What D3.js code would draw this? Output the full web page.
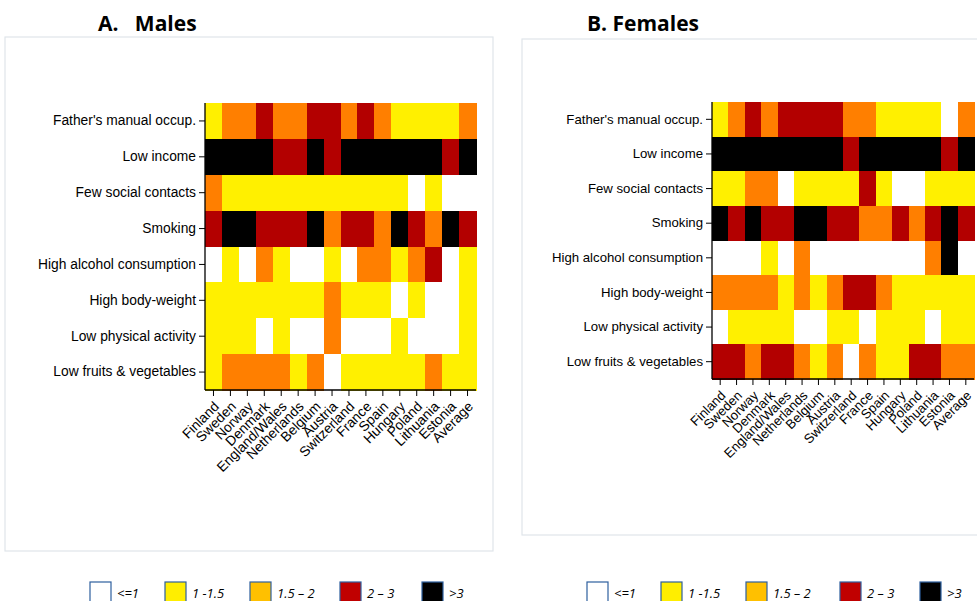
<!DOCTYPE html>
<html><head><meta charset="utf-8">
<script src="https://cdn.jsdelivr.net/npm/d3@7"></script>
<style>
body{margin:0;background:#fff;}
svg{display:block;}
</style></head>
<body>
<svg id="c" width="977" height="601"></svg>
<script>
const countries = ["Finland","Sweden","Norway","Denmark","England/Wales","Netherlands","Belgium","Austria","Switzerland","France","Spain","Hungary","Poland","Lithuania","Estonia","Average"];
const factors = ["Father's manual occup.","Low income","Few social contacts","Smoking","High alcohol consumption","High body-weight","Low physical activity","Low fruits & vegetables"];
const classes = ["<=1","1 -1.5","1.5 \u2013 2","2 \u2013 3",">3"];
const cellColors = ["#ffffff","#fff000","#ff7f00","#b30000","#000000"];
const legendColors = ["#ffffff","#ffee00","#ffc000","#c00000","#000000"];

// class index per factor (rows) x country (columns)
const males = [
  [1,2,2,3,2,2,3,3,2,3,2,1,1,1,1,2],
  [4,4,4,4,3,3,4,3,4,4,4,4,4,4,3,4],
  [2,1,1,1,1,1,1,1,1,1,1,1,0,1,0,0],
  [3,4,4,3,3,3,4,2,3,3,2,4,3,2,4,3],
  [0,1,0,2,1,0,0,1,0,2,2,1,2,3,0,1],
  [1,1,1,1,1,1,1,2,1,1,1,0,1,0,0,1],
  [1,1,1,0,1,0,0,2,0,0,0,1,0,0,0,1],
  [1,2,2,2,2,1,2,0,1,1,1,1,1,2,1,1]
];
const females = [
  [1,2,3,2,3,3,3,3,2,2,1,1,1,1,0,2],
  [4,4,4,4,4,4,4,4,3,4,4,4,4,4,3,4],
  [1,1,2,2,0,1,1,1,1,3,1,0,0,1,1,1],
  [4,3,4,3,3,4,4,3,3,2,2,3,2,3,4,3],
  [0,0,0,1,0,2,0,0,0,0,0,0,0,2,4,0],
  [2,2,2,2,1,2,1,2,3,3,2,1,1,1,1,1],
  [0,1,1,1,1,0,0,1,1,0,1,1,1,0,1,1],
  [3,3,2,3,3,2,1,2,0,2,1,1,3,3,2,2]
];

const svg = d3.select("#c");
const color = d3.scaleOrdinal().domain(d3.range(5)).range(cellColors);

function panel(cfg){
  svg.append("rect").attr("x",cfg.fx).attr("y",cfg.fy).attr("width",cfg.fw).attr("height",cfg.fh)
    .attr("fill","#fff").attr("stroke","#dfe5ea").attr("stroke-width",1.2);
  svg.append("text").attr("x",cfg.tx).attr("y",31).attr("font-family","'Open Sans',Lato,sans-serif")
    .attr("font-weight","bold").attr("font-size",21).attr("fill","#000")
    .attr("xml:space","preserve").style("white-space","pre").text(cfg.title);

  const x = d3.scaleBand().domain(countries).range([cfg.x0,cfg.x1]).padding(0);
  const y = d3.scaleBand().domain(factors).range([cfg.y0,cfg.y1]).padding(0);
  const g = svg.append("g");
  const cells = [];
  cfg.data.forEach((row,i)=>row.forEach((v,j)=>cells.push({f:factors[i],c:countries[j],v})));
  g.selectAll("rect.cell").data(cells).join("rect").attr("class","cell")
    .attr("x",d=>x(d.c)).attr("y",d=>y(d.f))
    .attr("width",x.bandwidth()+0.6).attr("height",y.bandwidth()+0.6)
    .attr("shape-rendering","crispEdges")
    .attr("fill",d=>color(d.v));

  const ya = svg.append("g").attr("transform",`translate(${cfg.x0},0)`)
    .call(d3.axisLeft(y).tickSize(6).tickPadding(3));
  ya.select(".domain").attr("stroke","#000").attr("stroke-width",1.3).attr("d",`M0,${cfg.y0}V${cfg.y1}`);
  ya.selectAll(".tick line").attr("stroke","#000").attr("stroke-width",1);
  ya.selectAll("text").attr("font-family","'Liberation Sans',Arial,sans-serif").attr("font-size",cfg.fs).attr("fill","#000");

  const xa = svg.append("g").attr("transform",`translate(0,${cfg.y1})`)
    .call(d3.axisBottom(x).tickSize(6).tickPadding(2));
  xa.select(".domain").attr("stroke","#000").attr("stroke-width",1.3).attr("d",`M${cfg.x0},0H${cfg.x1}`);
  xa.selectAll(".tick line").attr("stroke","#000").attr("stroke-width",1);
  xa.selectAll("text").attr("font-family","'Liberation Sans',Arial,sans-serif").attr("font-size",cfg.fs).attr("fill","#000")
    .attr("text-anchor","end").attr("dy","0.35em")
    .attr("transform","translate(3,14) rotate(-45)").attr("x",0).attr("y",0);

  const lg = svg.append("g");
  classes.forEach((c,i)=>{
    lg.append("rect").attr("x",cfg.lx[i]).attr("y",582).attr("width",21).attr("height",24)
      .attr("fill",legendColors[i]).attr("stroke","#2e5f9e").attr("stroke-width",1.2);
    lg.append("text").attr("x",cfg.lx[i]+27).attr("y",598)
      .attr("font-family","'Open Sans',Lato,sans-serif").attr("font-style","italic").attr("font-size",13)
      .attr("fill","#000").text(c);
  });
}

panel({title:"A.   Males", tx:98, fx:5, fy:37, fw:488, fh:514, x0:205, x1:476, y0:103, y1:390, fs:13.8,
  data:males, lx:[90,165,250,340,422]});
panel({title:"B. Females", tx:587, fx:522, fy:39, fw:470, fh:496, x0:712, x1:974, y0:102, y1:379, fs:13.2,
  data:females, lx:[587,661,746,840,920]});
</script>
</body></html>
